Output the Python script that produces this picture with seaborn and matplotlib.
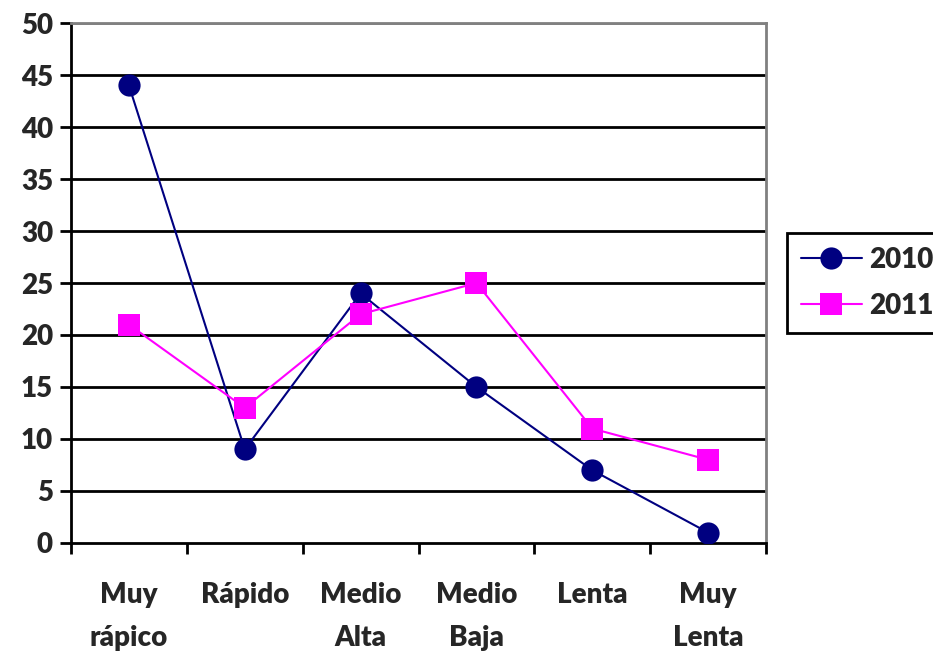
import pandas as pd
import matplotlib
matplotlib.use("Agg")
import matplotlib.pyplot as plt
import seaborn as sns
from matplotlib.lines import Line2D

categories = ["Muy\nrápico", "Rápido", "Medio\nAlta", "Medio\nBaja", "Lenta", "Muy\nLenta"]
years = ["2010", "2011"]
values_2010 = [44, 9, 24, 15, 7, 1]
values_2011 = [21, 13, 22, 25, 11, 8]

df = pd.DataFrame({
    "pos": list(range(len(categories))) * 2,
    "valor": values_2010 + values_2011,
    "serie": [years[0]] * len(categories) + [years[1]] * len(categories),
})

sns.set_style("white")
plt.rcParams['font.family'] = ['Lato', 'DejaVu Sans']
plt.rcParams['font.weight'] = 'heavy'

FS = 20

fig = plt.figure(figsize=(9.33, 6.52), dpi=100)
ax = fig.add_axes([0.0761, 0.1672, 0.745, 0.7975])

# gridlines drawn first so the series sit on top
for y in range(5, 50, 5):
    ax.axhline(y, color="black", lw=2, zorder=1)
ax.axhline(50, color="#808080", lw=2, zorder=1)

sns.lineplot(data=df, x="pos", y="valor", hue="serie", style="serie",
             palette={"2010": "#000080", "2011": "#FF00FF"},
             markers={"2010": "o", "2011": "s"}, dashes=False,
             markersize=16, markeredgewidth=0, linewidth=1.5,
             ax=ax, zorder=3, legend=False)

ax.set_xlim(-0.5, len(categories) - 0.5)
ax.set_ylim(0, 50)
ax.set_yticks(range(0, 51, 5))
ax.set_xticks([i - 0.5 for i in range(len(categories) + 1)])
ax.set_xticklabels([])
ax.set_xticks(range(len(categories)), minor=True)
ax.set_xticklabels(categories, minor=True, fontsize=FS, fontweight="heavy", linespacing=1.82)
ax.tick_params(axis="x", which="minor", bottom=False, length=0, pad=28)
ax.tick_params(axis="x", which="major", bottom=True, length=8, width=2, direction="out", color="black")
ax.tick_params(axis="y", left=True, length=8, width=2, direction="out", color="black", labelsize=FS, pad=5)
for lab in ax.get_yticklabels():
    lab.set_fontweight("heavy")
ax.set_xlabel("")
ax.set_ylabel("")

for side in ["left", "bottom"]:
    ax.spines[side].set_color("black")
    ax.spines[side].set_linewidth(2)
for side in ["top", "right"]:
    ax.spines[side].set_color("#808080")
    ax.spines[side].set_linewidth(2)

handles = [
    Line2D([], [], color="#000080", marker="o", markersize=16, markeredgewidth=0, lw=1.5),
    Line2D([], [], color="#FF00FF", marker="s", markersize=16, markeredgewidth=0, lw=1.5),
]
leg = fig.legend(handles, years, loc="upper left", bbox_to_anchor=(0.8435, 0.643),
                 frameon=True, fancybox=False, edgecolor="black", framealpha=1,
                 prop={"size": FS, "weight": "heavy"}, handlelength=2.2,
                 borderpad=0.5, labelspacing=0.72, handletextpad=0.25, borderaxespad=0)
leg.get_frame().set_linewidth(2)

fig.savefig("out.png", dpi=100)
